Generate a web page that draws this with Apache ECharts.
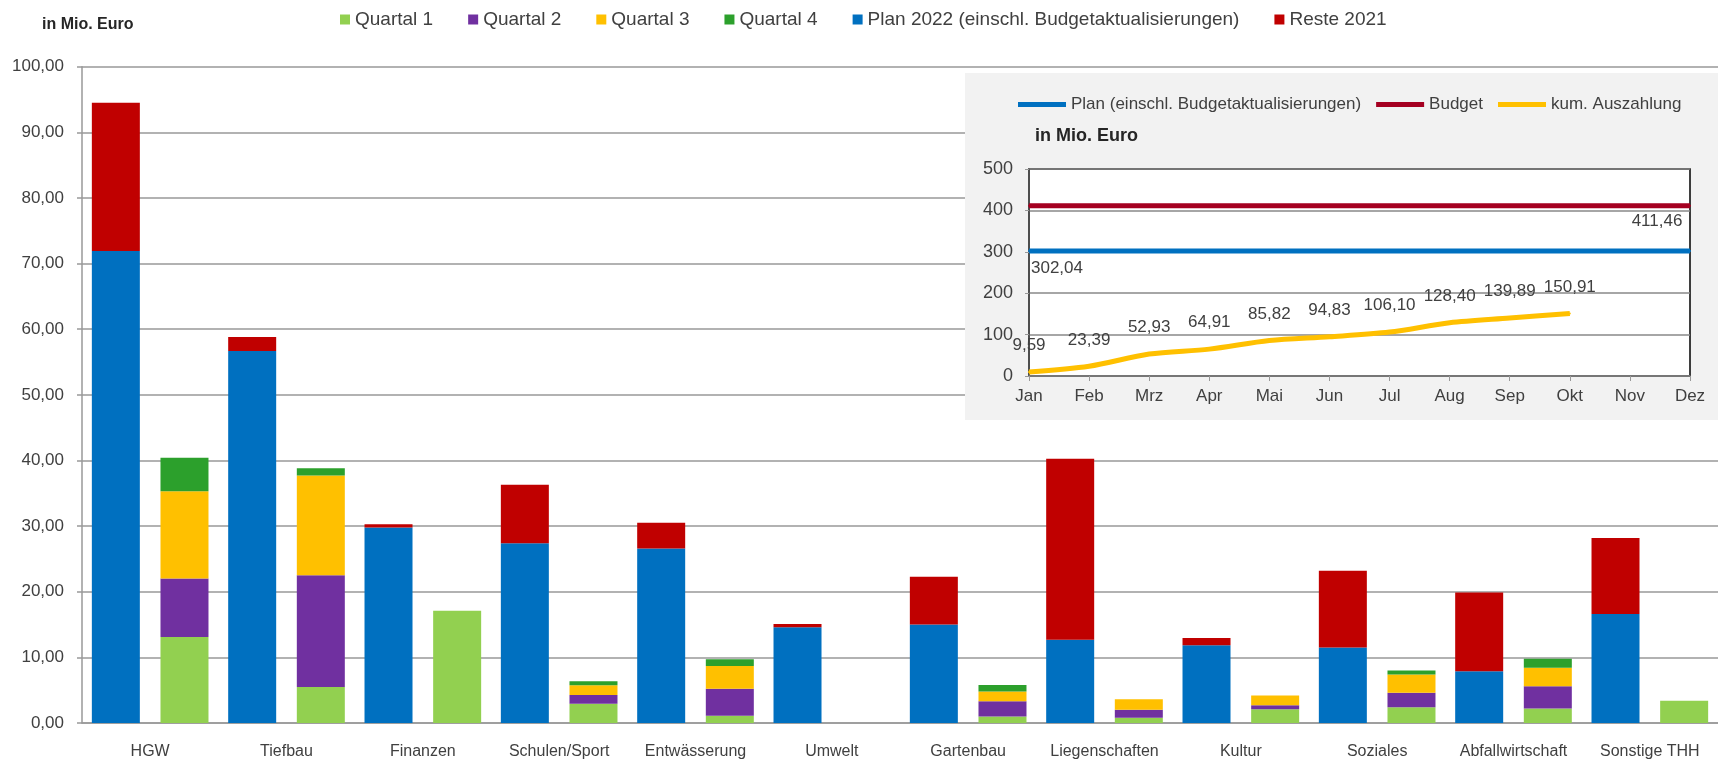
<!DOCTYPE html>
<html>
<head>
<meta charset="utf-8">
<script src="https://cdn.jsdelivr.net/npm/echarts@6/dist/echarts.min.js"></script>
<style>
  html, body { margin: 0; padding: 0; background: #fff; }
  #chart { width: 1718px; height: 764px; }
</style>
</head>
<body>
<div id="chart"></div>
<script>
// Hauptdiagramm: Plan/Reste und Auszahlungen je Quartal (in Mio. Euro)
var categories = ['HGW', 'Tiefbau', 'Finanzen', 'Schulen/Sport', 'Entwässerung', 'Umwelt',
  'Gartenbau', 'Liegenschaften', 'Kultur', 'Soziales', 'Abfallwirtschaft', 'Sonstige THH']
var plan2022 = [71.9, 56.7, 29.8, 27.4, 26.6, 14.6, 15.0, 12.7, 11.85, 11.5, 7.9, 16.6]
var reste2021 = [22.6, 2.1, 0.5, 8.9, 3.9, 0.5, 7.3, 27.55, 1.1, 11.7, 12.0, 11.6]
var quartal1 = [13.1, 5.5, 17.1, 2.95, 1.1, 0, 1.0, 0.8, 2.1, 2.4, 2.2, 3.4]
var quartal2 = [8.9, 17.0, 0, 1.3, 4.1, 0, 2.3, 1.2, 0.6, 2.2, 3.4, 0]
var quartal3 = [13.3, 15.2, 0, 1.5, 3.5, 0, 1.5, 1.6, 1.5, 2.8, 2.8, 0]
var quartal4 = [5.1, 1.1, 0, 0.6, 1.0, 0, 1.0, 0, 0, 0.6, 1.4, 0]

// Kleines Diagramm: Jahresverlauf
var months = ['Jan', 'Feb', 'Mrz', 'Apr', 'Mai', 'Jun', 'Jul', 'Aug', 'Sep', 'Okt', 'Nov', 'Dez']
var planLine = [302.04, 302.04, 302.04, 302.04, 302.04, 302.04, 302.04, 302.04, 302.04, 302.04, 302.04, 302.04]
var budgetLine = [411.46, 411.46, 411.46, 411.46, 411.46, 411.46, 411.46, 411.46, 411.46, 411.46, 411.46, 411.46]
var kumAuszahlung = [9.59, 23.39, 52.93, 64.91, 85.82, 94.83, 106.10, 128.40, 139.89, 150.91]

var txt = '#404040'
var sans = '"Liberation Sans", Arial, sans-serif'

function komma(v) {
  return Number(v).toFixed(2).replace('.', ',')
}

function barSeries(name, stack, color, data) {
  return {
    name: name,
    type: 'bar',
    stack: stack,
    xAxisIndex: 0,
    yAxisIndex: 0,
    barWidth: 48,
    barGap: '43%',
    itemStyle: { color: color },
    data: data
  }
}

// Beschriftung fuer einzelne Punkte der Linien
function punktLabel(offset) {
  return {
    show: true,
    position: 'bottom',
    offset: offset,
    fontFamily: sans,
    fontSize: 17,
    color: txt,
    formatter: function(p) { return komma(p.value) }
  }
}

var option = {
  animation: false,
  backgroundColor: '#fff',
  title: [
    {
      text: 'in Mio. Euro',
      left: 42,
      top: 17,
      padding: 0,
      textStyle: { fontFamily: sans, fontSize: 16, fontWeight: 'bold', color: '#262626' }
    },
    {
      text: 'in Mio. Euro',
      left: 1035,
      top: 127,
      padding: 0,
      textStyle: { fontFamily: sans, fontSize: 18, fontWeight: 'bold', color: '#262626' }
    }
  ],
  legend: [
    {
      left: 340,
      top: 10,
      padding: 0,
      itemWidth: 10,
      itemHeight: 10,
      itemGap: 35,
      icon: 'rect',
      textStyle: { fontFamily: sans, fontSize: 19, color: txt },
      data: ['Quartal 1', 'Quartal 2', 'Quartal 3', 'Quartal 4',
        'Plan 2022 (einschl. Budgetaktualisierungen)', 'Reste 2021']
    },
    {
      left: 1018,
      top: 96,
      padding: 0,
      itemWidth: 48,
      itemHeight: 5,
      itemGap: 15,
      icon: 'rect',
      textStyle: { fontFamily: sans, fontSize: 17, color: txt },
      data: ['Plan (einschl. Budgetaktualisierungen)', 'Budget', 'kum. Auszahlung']
    }
  ],
  graphic: [
    {
      type: 'rect',
      left: 965,
      top: 73,
      z: 1,
      shape: { width: 753, height: 347 },
      style: { fill: '#F2F2F2' }
    }
  ],
  grid: [
    { left: 82, right: -8, top: 66.7, bottom: 41 },
    {
      left: 1029, top: 169, width: 661, height: 207,
      show: true, z: 2,
      backgroundColor: '#fff', borderColor: '#000', borderWidth: 1.5
    }
  ],
  xAxis: [
    {
      type: 'category',
      gridIndex: 0,
      data: categories,
      axisLine: { lineStyle: { color: '#999', width: 1.5 } },
      axisTick: { show: false },
      axisLabel: { margin: 21, fontFamily: sans, fontSize: 16, color: txt, interval: 0 }
    },
    {
      type: 'category',
      gridIndex: 1,
      data: months,
      boundaryGap: false,
      z: 3,
      axisLine: { lineStyle: { color: '#777', width: 1.5 } },
      axisTick: { length: 5, lineStyle: { color: '#999' } },
      axisLabel: { margin: 12, fontFamily: sans, fontSize: 17, color: txt, interval: 0 }
    }
  ],
  yAxis: [
    {
      type: 'value',
      gridIndex: 0,
      min: 0,
      max: 100,
      interval: 10,
      axisLine: { show: true, lineStyle: { color: '#999', width: 1.5 } },
      axisTick: { show: true, length: 5, lineStyle: { color: '#999', width: 1.5 } },
      axisLabel: {
        margin: 18, fontFamily: sans, fontSize: 17, color: txt,
        formatter: function(v) { return komma(v) }
      },
      splitLine: { lineStyle: { color: '#999', width: 1.5 } }
    },
    {
      type: 'value',
      gridIndex: 1,
      min: 0,
      max: 500,
      interval: 100,
      z: 3,
      axisLine: { show: true, lineStyle: { color: '#555', width: 1.5 } },
      axisTick: { show: true, length: 4, lineStyle: { color: '#999' } },
      axisLabel: { margin: 16, fontFamily: sans, fontSize: 18, color: txt },
      splitLine: { lineStyle: { color: '#888', width: 1.5 } }
    }
  ],
  series: [
    barSeries('Plan 2022 (einschl. Budgetaktualisierungen)', 'plan', '#0070C0', plan2022),
    barSeries('Reste 2021', 'plan', '#C00000', reste2021),
    barSeries('Quartal 1', 'ist', '#92D050', quartal1),
    barSeries('Quartal 2', 'ist', '#7030A0', quartal2),
    barSeries('Quartal 3', 'ist', '#FFC000', quartal3),
    barSeries('Quartal 4', 'ist', '#2CA02C', quartal4),
    {
      name: 'Plan (einschl. Budgetaktualisierungen)',
      type: 'line',
      xAxisIndex: 1,
      yAxisIndex: 1,
      z: 4,
      color: '#0070C0',
      symbol: 'circle',
      symbolSize: 2,
      lineStyle: { color: '#0070C0', width: 5 },
      data: planLine.map(function(v, i) {
        if (i !== 0) return v
        return { value: v, label: punktLabel([28, 3]) }
      })
    },
    {
      name: 'Budget',
      type: 'line',
      xAxisIndex: 1,
      yAxisIndex: 1,
      z: 4,
      color: '#A50021',
      symbol: 'circle',
      symbolSize: 2,
      lineStyle: { color: '#A50021', width: 5 },
      data: budgetLine.map(function(v, i) {
        if (i !== budgetLine.length - 1) return v
        return { value: v, label: punktLabel([-33, 1]) }
      })
    },
    {
      name: 'kum. Auszahlung',
      type: 'line',
      xAxisIndex: 1,
      yAxisIndex: 1,
      z: 4,
      color: '#FFC000',
      symbol: 'circle',
      symbolSize: 2,
      smooth: 0.3,
      lineStyle: { color: '#FFC000', width: 5 },
      label: {
        show: true,
        position: 'top',
        distance: 17,
        fontFamily: sans,
        fontSize: 17,
        color: txt,
        formatter: function(p) { return komma(p.value) }
      },
      data: kumAuszahlung
    }
  ]
}

var chart = echarts.init(document.getElementById('chart'))
chart.setOption(option, true)
window.addEventListener('resize', () => {
  chart.resize()
})
</script>
</body>
</html>
